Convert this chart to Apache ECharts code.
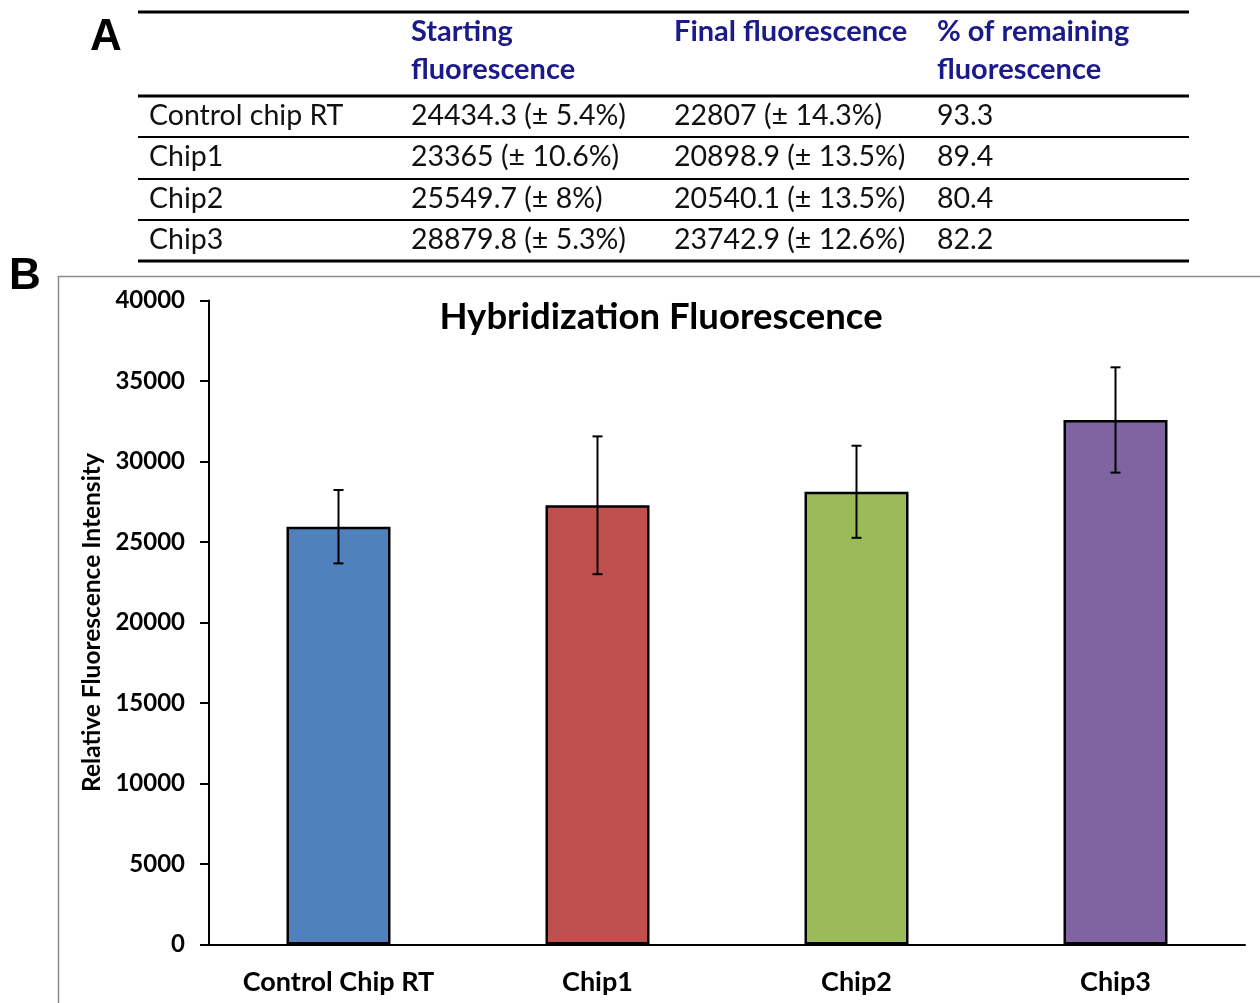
<!DOCTYPE html>
<html>
<head>
    <meta charset="utf-8">
    <title>Hybridization Fluorescence</title>
    <style>
        html,body{width:100%;height:100%;margin:0;padding:0;overflow:hidden;background:#fff;}
        #main{width:1260px;height:1003px;}
    </style>
    <script src="https://cdn.jsdelivr.net/npm/echarts@6/dist/echarts.min.js"></script>
</head>
<body>
<div id="main"></div>

<script type="text/javascript">
    // table (panel A)
    var headerLines = [
        ['Starting', 'fluorescence'],
        ['Final fluorescence', ''],
        ['% of remaining', 'fluorescence']
    ];
    var rowNames = ['Control chip RT', 'Chip1', 'Chip2', 'Chip3'];
    var startFluor = ['24434.3 (\u00b1 5.4%)', '23365 (\u00b1 10.6%)', '25549.7 (\u00b1 8%)', '28879.8 (\u00b1 5.3%)'];
    var finalFluor = ['22807 (\u00b1 14.3%)', '20898.9 (\u00b1 13.5%)', '20540.1 (\u00b1 13.5%)', '23742.9 (\u00b1 12.6%)'];
    var remainingPct = ['93.3', '89.4', '80.4', '82.2'];

    // chart (panel B)
    var categories = ['Control Chip RT', 'Chip1', 'Chip2', 'Chip3'];
    var meanValues = [25950, 27280, 28120, 32580];
    var errValues = [2280, 4280, 2860, 3270];
    var yTicks = [0, 5000, 10000, 15000, 20000, 25000, 30000, 35000, 40000];

    var palette = ['#4f81bd', '#c0504d', '#9bbb59', '#8064a2'];
    var FONT = 'Lato, "Open Sans", sans-serif';

    var myChart = echarts.init(document.getElementById('main'));

    // build table graphics
    var colX = [149, 411, 674, 937];
    var rowY = [116, 157, 199, 240];
    var graphics = [];
    function hline(y, w) {
        graphics.push({type: 'line', shape: {x1: 138, y1: y, x2: 1189, y2: y},
            style: {stroke: '#000', lineWidth: w}});
    }
    hline(12, 3); hline(96, 3); hline(137, 2); hline(179, 2); hline(220, 2); hline(261, 3);
    function txt(s, x, y, font, color) {
        graphics.push({type: 'text', style: {text: s, x: x, y: y, font: font, fill: color,
            align: 'left', verticalAlign: 'middle'}});
    }
    headerLines.forEach(function (h, i) {
        txt(h[0], colX[i + 1], 32, 'bold 29px ' + FONT, '#1a1a8a');
        txt(h[1], colX[i + 1], 70, 'bold 29px ' + FONT, '#1a1a8a');
    });
    rowNames.forEach(function (n, i) {
        txt(n, colX[0], rowY[i], '28.5px ' + FONT, '#111');
        txt(startFluor[i], colX[1], rowY[i], '28.5px ' + FONT, '#111');
        txt(finalFluor[i], colX[2], rowY[i], '28.5px ' + FONT, '#111');
        txt(remainingPct[i], colX[3], rowY[i], '28.5px ' + FONT, '#111');
    });
    // panel letters
    txt('A', 90, 38, 'bold 44px "Liberation Sans", Arial, sans-serif', '#000');
    txt('B', 9, 277, 'bold 44px "Liberation Sans", Arial, sans-serif', '#000');
    // chart frame
    graphics.push({type: 'rect', shape: {x: 58.5, y: 276.5, width: 1210, height: 740},
        style: {fill: 'none', stroke: '#8c8c8c', lineWidth: 1.5}, z: -1});

    var option = {
        backgroundColor: '#fff',
        animation: false,
        title: {
            text: 'Hybridization Fluorescence',
            left: 656, top: 294, textAlign: 'center',
            textStyle: {fontFamily: FONT, fontWeight: 'bold', fontSize: 36.5, color: '#000'}
        },
        grid: {left: 209, right: 15, top: 300.5, bottom: 58.5},
        xAxis: {
            type: 'category',
            data: categories,
            axisLine: {lineStyle: {color: '#000', width: 2}},
            axisTick: {length: 10, lineStyle: {color: '#000', width: 2}},
            axisLabel: {color: '#000', fontFamily: FONT, fontWeight: 'bold', fontSize: 27, margin: 24}
        },
        yAxis: {
            type: 'value',
            min: yTicks[0], max: yTicks[yTicks.length - 1], interval: 5000,
            name: 'Relative Fluorescence Intensity',
            nameLocation: 'middle', nameRotate: 90, nameGap: 95,
            nameTextStyle: {color: '#000', fontFamily: FONT, fontWeight: 'bold', fontSize: 24.5},
            axisLine: {show: true, lineStyle: {color: '#000', width: 2}},
            axisTick: {show: true, length: 9, lineStyle: {color: '#000', width: 2}},
            axisLabel: {color: '#000', fontFamily: FONT, fontWeight: 'bold', fontSize: 24, margin: 24,
                formatter: function (v) { return String(v); }},
            splitLine: {show: false}
        },
        graphic: graphics,
        series: [
            {
                type: 'bar',
                barWidth: 104,
                data: meanValues.map(function (v, i) {
                    return {value: v, itemStyle: {color: palette[i]}};
                }),
                itemStyle: {borderColor: '#000', borderWidth: 2.5}
            },
            {
                type: 'custom',
                z: 5,
                data: meanValues.map(function (v, i) { return [i, v - errValues[i], v + errValues[i]]; }),
                renderItem: function (params, api) {
                    var lo = api.coord([api.value(0), api.value(1)]);
                    var hi = api.coord([api.value(0), api.value(2)]);
                    var cap = 5;
                    var st = {stroke: '#000', lineWidth: 2};
                    return {
                        type: 'group',
                        children: [
                            {type: 'line', shape: {x1: hi[0], y1: hi[1], x2: lo[0], y2: lo[1]}, style: st},
                            {type: 'line', shape: {x1: hi[0] - cap, y1: hi[1], x2: hi[0] + cap, y2: hi[1]}, style: st},
                            {type: 'line', shape: {x1: lo[0] - cap, y1: lo[1], x2: lo[0] + cap, y2: lo[1]}, style: st}
                        ]
                    };
                }
            }
        ]
    };
    myChart.setOption(option);
</script>
</body>
</html>
